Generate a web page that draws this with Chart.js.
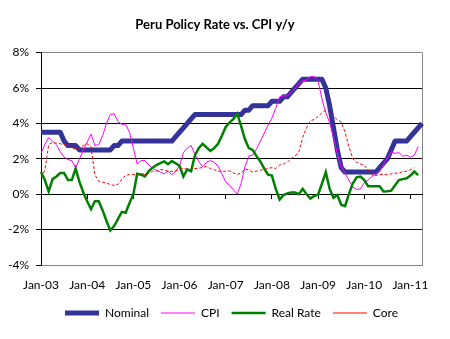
<!DOCTYPE html>
<html>
<head>
<meta charset="utf-8">
<title>Peru Policy Rate vs. CPI y/y</title>
<script src="https://cdn.jsdelivr.net/npm/chart.js@4.4.1/dist/chart.umd.min.js"></script>
<style>
    html, body { margin: 0; padding: 0; background: #fff; }
</style>
</head>
<body>
<canvas id="myChart" width="450" height="339"></canvas>
<script>
/** 月份标签: Jan-03 ... Apr-11 */
var monthNames = ['Jan', 'Feb', 'Mar', 'Apr', 'May', 'Jun', 'Jul', 'Aug', 'Sep', 'Oct', 'Nov', 'Dec']
var firstYear = 2003
var monthCount = 100

/** 政策利率 (%) */
var nominalRate = [
    3.5, 3.5, 3.5, 3.5, 3.5, 3.5, 3.0, 2.75, 2.75, 2.75,
    2.5, 2.5, 2.5, 2.5, 2.5, 2.5, 2.5, 2.5, 2.5, 2.75,
    2.75, 3.0, 3.0, 3.0, 3.0, 3.0, 3.0, 3.0, 3.0, 3.0,
    3.0, 3.0, 3.0, 3.0, 3.0, 3.25, 3.5, 3.75, 4.0, 4.25,
    4.5, 4.5, 4.5, 4.5, 4.5, 4.5, 4.5, 4.5, 4.5, 4.5,
    4.5, 4.5, 4.5, 4.75, 4.75, 5.0, 5.0, 5.0, 5.0, 5.0,
    5.25, 5.25, 5.25, 5.5, 5.5, 5.75, 6.0, 6.25, 6.5, 6.5,
    6.5, 6.5, 6.5, 6.5, 6.0, 5.0, 3.75, 2.5, 1.5, 1.25,
    1.25, 1.25, 1.25, 1.25, 1.25, 1.25, 1.25, 1.25, 1.5, 1.75,
    2.0, 2.5, 3.0, 3.0, 3.0, 3.0, 3.25, 3.5, 3.75, 4.0
]
/** CPI 同比 (%) */
var cpiYoY = [
    2.3, 2.8, 3.2, 3.0, 2.8, 2.4, 2.1, 1.95, 1.9, 1.5,
    2.0, 2.5, 2.95, 3.4, 2.75, 2.8, 3.3, 4.0, 4.5, 4.55,
    4.1, 3.95, 3.95, 3.5, 2.6, 1.7, 1.9, 1.9, 1.65, 1.45,
    1.35, 1.25, 1.15, 1.3, 1.1, 1.3, 1.6, 2.35, 2.6, 2.75,
    2.25, 1.85, 1.55, 1.8, 1.9, 1.8, 1.6, 1.15, 0.7, 0.5,
    0.25, 0.0, 0.6, 1.55, 2.15, 2.2, 2.55, 3.0, 3.45, 3.9,
    4.3, 4.85, 5.5, 5.55, 5.55, 5.75, 5.95, 6.25, 6.4, 6.45,
    6.65, 6.65, 6.4, 5.4, 4.6, 4.05, 3.2, 2.3, 1.55, 1.2,
    0.8, 0.4, 0.27, 0.3, 0.65, 0.8, 1.0, 1.15, 1.3, 1.65,
    2.05, 2.4, 2.3, 2.35, 2.15, 2.2, 2.1, 2.2, 2.7, null
]
/** 实际利率 (%) */
var realRate = [
    1.25, 0.8, 0.15, 0.85, 1.0, 1.2, 1.2, 0.8, 0.8, 1.45,
    0.7, 0.1, -0.4, -0.85, -0.4, -0.4, -0.9, -1.5, -2.05, -1.8,
    -1.4, -1.0, -1.05, -0.5, 0.0, 1.15, 1.1, 1.0, 1.3, 1.5,
    1.65, 1.75, 1.85, 1.7, 1.87, 1.75, 1.6, 1.0, 1.4, 1.3,
    2.2, 2.6, 2.85, 2.65, 2.45, 2.6, 2.85, 3.3, 3.8, 4.05,
    4.25, 4.55, 3.85, 3.1, 2.6, 2.5, 2.15, 1.85, 1.45, 1.1,
    1.05, 0.3, -0.3, -0.05, 0.05, 0.1, 0.1, 0.0, 0.3, 0.0,
    -0.25, -0.1, -0.02, 0.6, 1.25, 0.3, -0.2, -0.05, -0.6, -0.67,
    0.0, 0.6, 0.95, 1.0, 0.8, 0.45, 0.45, 0.45, 0.45, 0.15,
    0.17, 0.2, 0.5, 0.8, 0.85, 0.9, 1.05, 1.28, 1.08, null
]
/** 核心通胀 (%) */
var coreYoY = [
    0.95, 1.35, 2.8, 2.93, 2.88, 2.85, 2.8, 2.76, 2.6, 2.55,
    2.6, 2.76, 2.85, 2.67, 1.1, 0.72, 0.68, 0.64, 0.54, 0.5,
    0.55, 0.85, 1.07, 1.1, 1.12, 1.13, 1.2, 1.1, 1.18, 1.3,
    1.3, 1.4, 1.37, 1.3, 1.28, 1.32, 1.4, 1.46, 1.4, 1.4,
    1.45, 1.46, 1.52, 1.56, 1.45, 1.38, 1.3, 1.28, 1.3, 1.32,
    1.2, 1.12, 1.2, 1.42, 1.37, 1.26, 1.3, 1.36, 1.4, 1.46,
    1.5, 1.45, 1.65, 1.7, 1.8, 2.02, 2.15, 2.4, 3.2, 3.75,
    4.15, 4.22, 4.4, 4.6, 4.75, 4.63, 4.4, 4.2, 4.08, 3.5,
    2.7, 2.0, 1.8, 1.7, 1.65, 1.35, 1.08, 1.06, 1.1, 1.12,
    1.1, 1.15, 1.18, 1.2, 1.28, 1.3, 1.38, 1.5, null, null
]

var yTicks = { min: -4, max: 8, step: 2 }

var peruRate = {
    labels: [],
    init: function () {
        peruRate.funcs.fillLabels()
        peruRate.funcs.createChart()
    },
    funcs: {
        fillLabels: function () {
            peruRate.labels = []
            for (var i = 0; i < monthCount; i++) {
                var yy = (firstYear + Math.floor(i / 12)) % 100
                peruRate.labels.push(monthNames[i % 12] + '-' + (yy < 10 ? '0' + yy : yy))
            }
        },
        createChart: function () {
            var last = peruRate.labels.length - 1
            var data = {
                labels: peruRate.labels,
                datasets: [
                    { label: 'Nominal', data: nominalRate, borderColor: '#333399', backgroundColor: '#333399',
                      borderWidth: 5, borderJoinStyle: 'round', order: 4 },
                    { label: 'CPI', data: cpiYoY, borderColor: '#ff00ff', backgroundColor: '#ff00ff',
                      borderWidth: 1, order: 3 },
                    { label: 'Real Rate', data: realRate, borderColor: '#008000', backgroundColor: '#008000',
                      borderWidth: 2.5, order: 2 },
                    { label: 'Core', data: coreYoY, borderColor: '#ff0000', backgroundColor: '#ff0000',
                      borderWidth: 1, borderDash: [3, 2], order: 1 }
                ]
            }
            var ctx = document.getElementById('myChart').getContext('2d')
            Chart.defaults.font.family = 'Lato, "Open Sans", sans-serif'
            Chart.defaults.color = '#000'
            var myChart = new Chart(ctx, {
                type: 'line',
                data: data,
                options: {
                    responsive: false,
                    animation: false,
                    layout: { padding: { left: 8, right: 28, top: 0, bottom: 10 } },
                    elements: { point: { radius: 0 }, line: { tension: 0 } },
                    plugins: {
                        title: {
                            display: true,
                            text: 'Peru Policy Rate vs. CPI y/y',
                            color: '#000',
                            font: { size: 13, weight: 'bold' },
                            padding: { top: 17, bottom: 20 }
                        },
                        legend: {
                            position: 'bottom',
                            fullSize: false,
                            labels: {
                                usePointStyle: true,
                                pointStyle: 'line',
                                pointStyleWidth: 34,
                                boxHeight: 12,
                                padding: 12,
                                color: '#000',
                                font: { size: 12 },
                                sort: function (a, b) { return a.datasetIndex - b.datasetIndex }
                            }
                        },
                        tooltip: { enabled: false }
                    },
                    scales: {
                        x: {
                            afterFit: function (s) { s.height = 30 },
                            grid: {
                                drawTicks: false,
                                // 只画右侧边框
                                color: function (c) { return c.index === last ? '#868686' : 'rgba(0,0,0,0)' }
                            },
                            border: { color: '#868686' },
                            ticks: {
                                autoSkip: false, maxRotation: 0, minRotation: 0, padding: 13,
                                font: { size: 12 },
                                callback: function (v, i) { return i % 12 === 0 ? this.getLabelForValue(v) : '' }
                            }
                        },
                        // 0% 处的横轴及年度刻度
                        x2: {
                            type: 'category',
                            position: { y: 0 },
                            afterFit: function (s) { s.height = 0 },
                            grid: {
                                drawOnChartArea: false,
                                tickLength: 4,
                                tickColor: function (c) { return c.index % 12 === 0 ? '#000' : 'rgba(0,0,0,0)' }
                            },
                            border: { color: '#000' },
                            ticks: { display: false, autoSkip: false }
                        },
                        y: {
                            min: yTicks.min,
                            max: yTicks.max,
                            afterFit: function (s) { s.width = 33 },
                            ticks: {
                                stepSize: yTicks.step, padding: 7,
                                font: { size: 12 },
                                callback: function (v) { return v + '%' }
                            },
                            grid: {
                                tickLength: 5,
                                tickColor: '#000',
                                color: function (c) {
                                    var v = c.tick && c.tick.value
                                    return (v === yTicks.max || v === yTicks.min) ? '#868686' : '#000'
                                }
                            },
                            border: { color: '#000' }
                        }
                    }
                }
            })
        }
    }
}

peruRate.init()
</script>
</body>
</html>
